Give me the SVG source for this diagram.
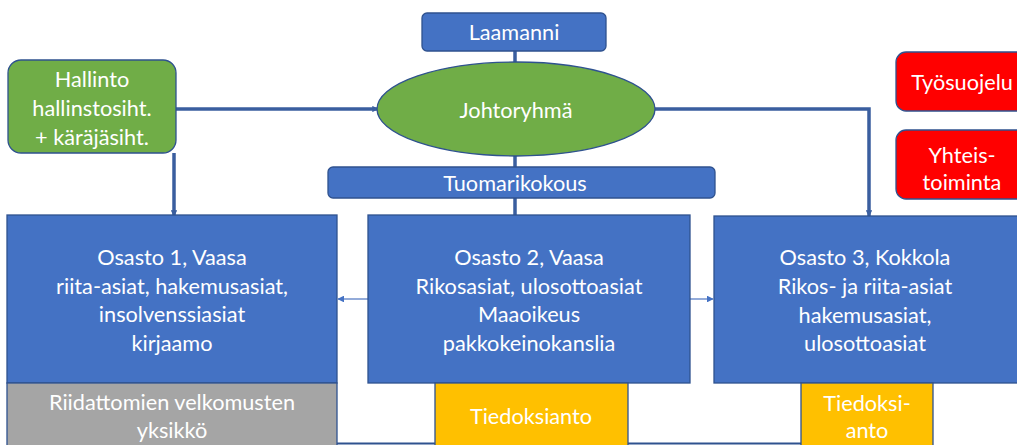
<svg xmlns="http://www.w3.org/2000/svg" width="1017" height="445" viewBox="0 0 1017 445">
<style>
text{font-family:Lato,"Open Sans","Liberation Sans",sans-serif;font-size:21.7px;fill:#fff;text-anchor:middle;dominant-baseline:central}
.blue{fill:#4472C4;stroke:#2F528F;stroke-width:1.3}
.green{fill:#70AD47;stroke:#2F528F;stroke-width:1.3}
.red{fill:#FF0000;stroke:#2F528F;stroke-width:1.3}
.yellow{fill:#FFC000;stroke:#2F528F;stroke-width:1.3}
.gray{fill:#A5A5A5;stroke:#2F528F;stroke-width:1.3}
.thick{stroke:#3A5E9F;stroke-width:3.5;fill:none}
.thin{stroke:#6F8FCC;stroke-width:1.5;fill:none}
</style>
<defs>
<marker id="ah" viewBox="0 0 10 10" refX="9" refY="5" markerWidth="1.8" markerHeight="1.8" orient="auto"><path d="M0,0 L10,5 L0,10 z" fill="#3A5E9F"/></marker>
<marker id="ahs" viewBox="0 0 10 10" refX="9" refY="5" markerWidth="4.5" markerHeight="4.5" orient="auto"><path d="M0,0 L10,5 L0,10 z" fill="#4472C4"/></marker>
</defs>
<rect width="1017" height="445" fill="#fff"/>
<g id="connectors">
<line class="thick" x1="515" y1="51" x2="515" y2="63"/>
<line class="thick" x1="515" y1="155" x2="515" y2="167"/>
<line class="thick" x1="515" y1="198" x2="515" y2="216"/>
<line class="thick" x1="176" y1="109" x2="378" y2="109" marker-end="url(#ah)"/>
<line class="thick" x1="174" y1="153" x2="174" y2="216" marker-end="url(#ah)"/>
<polyline class="thick" points="655,109 869,109 869,216" marker-end="url(#ah)"/>
<line class="thin" x1="368" y1="299" x2="338" y2="299" marker-end="url(#ahs)"/>
<line class="thin" x1="690" y1="299" x2="713" y2="299" marker-end="url(#ahs)"/>
<line x1="337" y1="443.5" x2="435" y2="443.5" stroke="#2F528F" stroke-width="2"/>
<line x1="628" y1="443.5" x2="801" y2="443.5" stroke="#2F528F" stroke-width="2"/>
</g>
<g id="laamanni"><rect class="blue" x="422" y="13" width="184" height="38" rx="5"/><text x="514" y="32">Laamanni</text></g>
<g id="johtoryhma"><ellipse class="green" cx="516" cy="109" rx="139" ry="47"/><text x="516" y="110">Johtoryhmä</text></g>
<g id="hallinto"><rect class="green" x="8" y="60" width="168" height="93" rx="13"/><text x="92" y="79">Hallinto</text><text x="92" y="108">hallinstosiht.</text><text x="92" y="137">+ käräjäsiht.</text></g>
<g id="tuomarikokous"><rect class="blue" x="328" y="167" width="387" height="31" rx="5"/><text x="515" y="183">Tuomarikokous</text></g>
<g id="tyosuojelu"><rect class="red" x="896" y="52" width="135" height="59" rx="10"/><text x="962" y="82">Työsuojelu</text></g>
<g id="yhteistoiminta"><rect class="red" x="896" y="130" width="135" height="69" rx="10"/><text x="962" y="155">Yhteis-</text><text x="962" y="182">toiminta</text></g>
<g id="osasto1"><rect class="blue" x="7" y="215" width="330" height="168"/><text x="172" y="257">Osasto 1, Vaasa</text><text x="172" y="286">riita-asiat, hakemusasiat,</text><text x="172" y="314">insolvenssiasiat</text><text x="172" y="343">kirjaamo</text></g>
<g id="osasto2"><rect class="blue" x="368" y="215" width="322" height="168"/><text x="529" y="257">Osasto 2, Vaasa</text><text x="529" y="286">Rikosasiat, ulosottoasiat</text><text x="529" y="314">Maaoikeus</text><text x="529" y="343">pakkokeinokanslia</text></g>
<g id="osasto3"><rect class="blue" x="714" y="216" width="310" height="167"/><text x="865" y="257">Osasto 3, Kokkola</text><text x="865" y="286">Rikos- ja riita-asiat</text><text x="865" y="315">hakemusasiat,</text><text x="865" y="343">ulosottoasiat</text></g>
<g id="riidattomien"><rect class="gray" x="7" y="383" width="330" height="70"/><text x="172" y="402">Riidattomien velkomusten</text><text x="172" y="430">yksikkö</text></g>
<g id="tiedoksianto"><rect class="yellow" x="435" y="383" width="193" height="70"/><text x="531" y="416">Tiedoksianto</text></g>
<g id="tiedoksianto3"><rect class="yellow" x="801" y="383" width="132" height="70"/><text x="867" y="403">Tiedoksi-</text><text x="867" y="430">anto</text></g>
</svg>
